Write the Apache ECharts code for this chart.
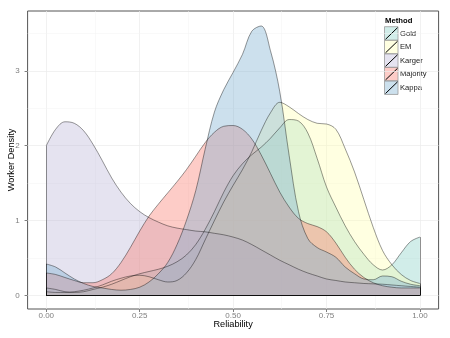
<!DOCTYPE html>
<html>
<head>
<meta charset="utf-8">
<script src="https://cdn.jsdelivr.net/npm/echarts@6/dist/echarts.min.js"></script>
<style>
  html, body { margin: 0; padding: 0; background: #fff; }
  #chart { width: 450px; height: 338px; }
</style>
</head>
<body>
<div id="chart"></div>
<script>
// density estimates, sampled every 0.025 of Reliability
var xs = [0, 0.025, 0.05, 0.075, 0.1, 0.125, 0.15, 0.175, 0.2, 0.225,
          0.25, 0.275, 0.3, 0.325, 0.35, 0.375, 0.4, 0.425, 0.45, 0.475,
          0.5, 0.525, 0.55, 0.575, 0.6, 0.625, 0.65, 0.675, 0.7, 0.725,
          0.75, 0.775, 0.8, 0.825, 0.85, 0.875, 0.9, 0.925, 0.95, 0.975, 1];

var gold = [0.10, 0.08, 0.05, 0.04, 0.05, 0.08, 0.11, 0.15, 0.20, 0.25,
            0.29, 0.32, 0.35, 0.39, 0.45, 0.54, 0.68, 0.88, 1.12, 1.38,
            1.60, 1.76, 1.88, 1.98, 2.10, 2.24, 2.35, 2.33, 2.17, 1.83,
            1.45, 1.18, 0.93, 0.72, 0.55, 0.41, 0.34, 0.41, 0.57, 0.72, 0.78];

var em = [0.05, 0.04, 0.04, 0.05, 0.07, 0.10, 0.14, 0.19, 0.23, 0.26,
          0.27, 0.25, 0.21, 0.18, 0.20, 0.30, 0.48, 0.74, 1.00, 1.25,
          1.47, 1.68, 1.92, 2.20, 2.44, 2.58, 2.52, 2.43, 2.35, 2.30,
          2.29, 2.22, 1.96, 1.65, 1.28, 0.91, 0.60, 0.41, 0.28, 0.20, 0.16];

var karger = [2.00, 2.22, 2.32, 2.30, 2.20, 2.02, 1.80, 1.57, 1.38, 1.23,
              1.12, 1.04, 0.98, 0.93, 0.90, 0.88, 0.86, 0.85, 0.83, 0.81,
              0.78, 0.74, 0.68, 0.61, 0.54, 0.47, 0.41, 0.35, 0.30, 0.26,
              0.22, 0.20, 0.18, 0.17, 0.16, 0.155, 0.15, 0.14, 0.13, 0.12, 0.11];

var majority = [0.30, 0.28, 0.24, 0.20, 0.17, 0.17, 0.21, 0.29, 0.44, 0.64,
                0.86, 1.06, 1.22, 1.37, 1.52, 1.68, 1.86, 2.04, 2.18, 2.26,
                2.27, 2.22, 2.09, 1.88, 1.63, 1.38, 1.18, 1.03, 0.96, 0.92,
                0.85, 0.70, 0.51, 0.35, 0.24, 0.17, 0.13, 0.11, 0.10, 0.10, 0.10];

var kappa = [0.42, 0.38, 0.30, 0.22, 0.16, 0.12, 0.10, 0.08, 0.07, 0.08,
             0.11, 0.18, 0.29, 0.44, 0.68, 1.00, 1.40, 1.95, 2.45, 2.75,
             2.98, 3.22, 3.53, 3.60, 3.27, 2.72, 1.87, 1.12, 0.76, 0.64,
             0.58, 0.51, 0.38, 0.29, 0.22, 0.21, 0.26, 0.25, 0.19, 0.15, 0.13];

var methods = ['Gold', 'EM', 'Karger', 'Majority', 'Kappa'];
var fills = ['#8DD3C7', '#FFFFB3', '#BEBADA', '#FB8072', '#80B1D3'];
var densities = [gold, em, karger, majority, kappa];

var xTicks = [0, 0.25, 0.5, 0.75, 1];
var xMinor = [0.125, 0.375, 0.625, 0.875];
var yTicks = [0, 1, 2, 3];
var yMinor = [0.5, 1.5, 2.5, 3.5];

var FONT = '"Liberation Sans", Arial, sans-serif';
var OUTLINE = 'rgba(0,0,0,0.5)';

function alpha(hex, a) {
    var n = parseInt(hex.slice(1), 16);
    return 'rgba(' + (n >> 16) + ',' + ((n >> 8) & 255) + ',' + (n & 255) + ',' + a + ')';
}

var myChart = echarts.init(document.getElementById('chart'));

// faint panel grid, drawn under the densities
var gridLines = [];
xTicks.forEach(function (v) { gridLines.push({ xAxis: v, lineStyle: { color: '#ebebeb', width: 0.7 } }); });
xMinor.forEach(function (v) { gridLines.push({ xAxis: v, lineStyle: { color: '#f3f3f3', width: 0.5 } }); });
yTicks.forEach(function (v) { gridLines.push({ yAxis: v, lineStyle: { color: '#ebebeb', width: 0.7 } }); });
yMinor.forEach(function (v) { gridLines.push({ yAxis: v, lineStyle: { color: '#f3f3f3', width: 0.5 } }); });

var series = [{
    type: 'line',
    data: [],
    silent: true,
    markLine: {
        z: 1,
        silent: true,
        animation: false,
        symbol: 'none',
        label: { show: false },
        lineStyle: { type: 'solid' },
        data: gridLines
    }
}];

densities.forEach(function (d, k) {
    var last = d.length - 1;
    series.push({
        name: methods[k],
        type: 'line',
        z: 2,
        smooth: 0.35,
        symbol: 'none',
        color: fills[k],
        data: xs.map(function (x, i) { return [x, d[i]]; }),
        lineStyle: { color: OUTLINE, width: 0.8 },
        areaStyle: { color: fills[k], opacity: 0.4 },
        // polygon edges: sides at the data range ends and the baseline
        markLine: {
            silent: true,
            animation: false,
            symbol: 'none',
            label: { show: false },
            lineStyle: { color: OUTLINE, width: 0.8, type: 'solid' },
            data: [
                [{ coord: [0, 0] }, { coord: [0, d[0]] }],
                [{ coord: [1, 0] }, { coord: [1, d[last]] }],
                [{ coord: [0, 0] }, { coord: [1, 0] }]
            ]
        }
    });
});

// legend, ggplot style
var graphic = [{
    type: 'text',
    x: 385, y: 16.5,
    style: { text: 'Method', font: 'bold 7.7px ' + FONT, fill: '#000' }
}];
methods.forEach(function (m, i) {
    var y0 = 26.7 + i * 13.55;
    graphic.push({
        type: 'rect',
        shape: { x: 384.5, y: y0, width: 13.5, height: 13.55 },
        style: { fill: alpha(fills[i], 0.4), stroke: '#9a9a9a', lineWidth: 0.8 }
    });
    graphic.push({
        type: 'line',
        shape: { x1: 385.5, y1: y0 + 12.6, x2: 397.5, y2: y0 + 1 },
        style: { stroke: '#000', lineWidth: 1 }
    });
    graphic.push({
        type: 'text',
        x: 400, y: y0 + 2.8,
        style: { text: m, font: '7.6px ' + FONT, fill: '#1a1a1a' }
    });
});

var option = {
    animation: false,
    backgroundColor: '#fff',
    grid: {
        left: 27.6, right: 11.4, top: 11, bottom: 29,
        containLabel: false,
        outerBoundsMode: 'none',
        show: true, backgroundColor: '#fff',
        borderColor: '#555', borderWidth: 1
    },
    xAxis: {
        type: 'value',
        min: -0.05, max: 1.05,
        name: 'Reliability',
        nameLocation: 'middle',
        nameGap: 11,
        nameMoveOverlap: false,
        nameTextStyle: { color: '#000', fontSize: 9.2, fontFamily: FONT },
        axisLine: { show: false, onZero: false },
        axisTick: { show: true, customValues: xTicks, length: 3, lineStyle: { color: '#7f7f7f' } },
        axisLabel: {
            customValues: xTicks, margin: 3,
            color: '#7f7f7f', fontSize: 8, fontFamily: FONT,
            formatter: function (v) { return v.toFixed(2); }
        },
        splitLine: { show: false }
    },
    yAxis: {
        type: 'value',
        min: -0.181, max: 3.80,
        name: 'Worker Density',
        nameLocation: 'middle',
        nameGap: 12,
        nameMoveOverlap: false,
        nameTextStyle: { color: '#000', fontSize: 9.2, fontFamily: FONT },
        axisLine: { show: false, onZero: false },
        axisTick: { show: true, customValues: yTicks, length: 3, lineStyle: { color: '#7f7f7f' } },
        axisLabel: {
            customValues: yTicks, margin: 8,
            color: '#7f7f7f', fontSize: 8, fontFamily: FONT,
            formatter: function (v) { return String(v); }
        },
        splitLine: { show: false }
    },
    graphic: graphic,
    series: series
};

myChart.setOption(option);
</script>
</body>
</html>
